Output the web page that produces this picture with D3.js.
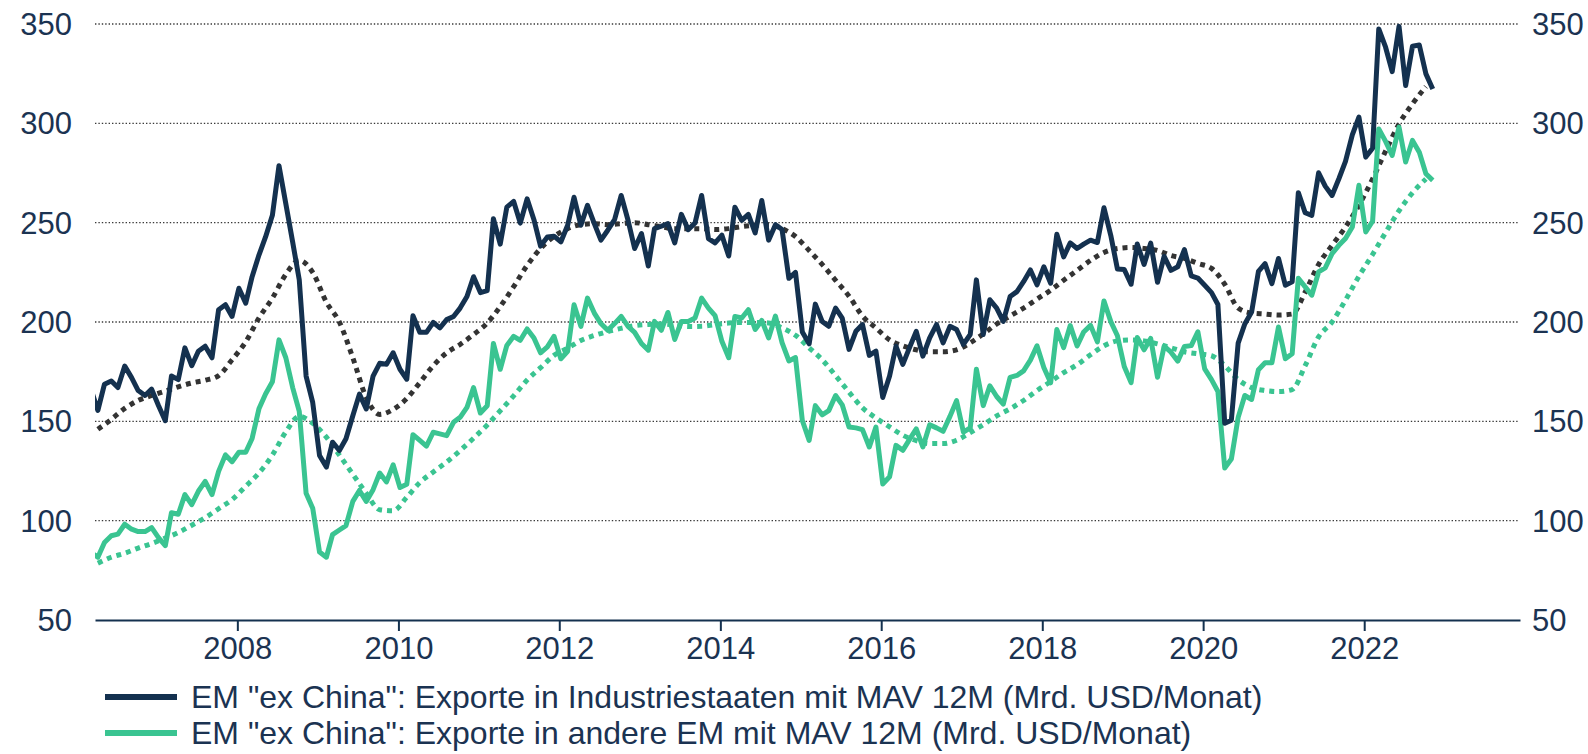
<!DOCTYPE html>
<html>
<head>
<meta charset="utf-8">
<script src="https://cdn.jsdelivr.net/npm/d3@7"></script>
<style>
  body { margin: 0; background: #fff; }
  svg text { font-family: "Liberation Sans", Arial, sans-serif; fill: #1b3352; }
</style>
</head>
<body>
<svg id="chart" width="1588" height="754"></svg>
<script>
// y ticks (left and right) and x tick years
const yTicks = [50, 100, 150, 200, 250, 300, 350];
const xTickYears = [2008, 2010, 2012, 2014, 2016, 2018, 2020, 2022];

const legendLabels = [
  'EM "ex China": Exporte in Industriestaaten mit MAV 12M (Mrd. USD/Monat)',
  'EM "ex China": Exporte in andere EM mit MAV 12M (Mrd. USD/Monat)'
];

// monthly values, first value = March 2006, last = November 2022
const industrie = [
  166, 155.5, 168.7, 170.3, 167, 177.8, 172, 165.5, 163, 166.2, 158, 150.3, 172.8,
  171, 187, 178, 185.3, 187.8, 182, 206.2, 208.7, 202.8, 217, 209.5, 222.8,
  233.7, 242.8, 253.7, 278.7, 259.5, 240.3, 221.2, 172.8, 159.5, 132.8, 127, 139.5,
  135.3, 141.2, 152.8, 163.7, 156.2, 172.8, 179.2, 178.7, 184.5, 176.2, 171.2, 203.2,
  194.8, 194.8, 199.8, 197, 201.2, 202.8, 207, 212.8, 222.8, 214.8, 215.8, 252,
  239.2, 257.8, 260.7, 249.8, 262, 251.5, 238.2, 242.8, 243.2, 240.3, 248.7, 262.8,
  248.7, 258.7, 249.5, 241.2, 246.2, 251.5, 263.7, 251.2, 237, 244.5, 228.2, 247,
  248.2, 249.5, 239.8, 254.2, 246.5, 249.8, 263.7, 242, 239.8, 243.7, 233.2, 257.8,
  251.2, 254.2, 244.8, 261.2, 241.2, 249, 246.5, 222, 225, 195, 189, 209,
  200.3, 197.8, 207, 202, 186.2, 195.3, 198.7, 183.2, 185.3, 162, 172.8, 187.8,
  178.7, 187, 195.3, 182.8, 192, 198.7, 189.5, 197.8, 196.2, 188.7, 193.7, 221.2,
  193.7, 211.2, 207, 200.3, 212.8, 215.3, 220.3, 226.2, 218.7, 227.8, 219.5, 244.2,
  232.8, 239.8, 237, 239.2, 241.2, 240, 257.5, 243.5, 226.7, 226.4, 219, 239.3,
  229, 239.7, 220, 233, 226, 227.8, 236.4, 223.2, 222.1, 218.5, 214.8, 208.8,
  149, 150.6, 189.4, 199, 205, 225.5, 229.4, 219.3, 232, 218.5, 220.2, 265.1,
  255, 253.7, 275.1, 268.4, 263.7, 272.1, 280.8, 294.2, 303.1, 283, 287.5, 347.5,
  338.3, 326, 348.8, 319, 338.8, 339.4, 324.9, 317.3
];

const andereEM = [
  84, 81.6, 89, 92.4, 93.2, 98.2, 95.7, 94.5, 94.5, 96.5, 91.5, 87.4, 104,
  103.2, 113.1, 108.1, 114.8, 119.8, 113.1, 124.8, 133.1, 129.7, 134.4, 134.4, 141.4,
  156.3, 163.8, 169.9, 191, 182, 167, 155, 113.8, 106.3, 84.2, 81.6, 93,
  95.3, 97.5, 109.7, 115.2, 109.7, 115.6, 124, 119.5, 128.1, 116.7, 118.3, 143.3,
  140.4, 137.5, 144.5, 143.7, 142.8, 149.5, 152, 157, 167, 154.2, 157.8, 189.2,
  176.2, 188.2, 192.8, 190.8, 196.5, 192, 184.5, 187.5, 192.8, 181.5, 185.3, 208.7,
  197.8, 212, 204.5, 199.2, 195.8, 199.2, 202.8, 197.8, 194.8, 189.2, 185.8, 200.3,
  195.8, 204.8, 191.2, 200.3, 200.3, 202, 212, 207, 203.2, 190.3, 182, 202.8,
  202, 206.2, 196.2, 200.8, 192, 203, 189.6, 180.4, 182.1, 150.4, 140.4, 157.9,
  153.3, 155.4, 163, 158.3, 147.1, 146.7, 145.8, 137.1, 147.1, 118.5, 122.1, 137.9,
  135.4, 140.8, 146.2, 137.1, 148.3, 146.7, 145, 152.5, 160.4, 144.6, 146.7, 176.2,
  157.9, 167.9, 162.5, 158.7, 172.1, 173.1, 175.4, 180.8, 188, 177.1, 169.4, 196.2,
  187.1, 198.2, 187.9, 195, 198.3, 190, 210.6, 200.2, 193.1, 177.6, 169.5, 192.2,
  186, 191.7, 172.2, 187.8, 184.8, 180.3, 187.7, 188.1, 195.1, 176.4, 171, 165,
  126.5, 131, 152, 163, 161, 176, 179.5, 179.5, 197.5, 181.5, 184, 222,
  217.7, 213.5, 225.2, 227.2, 234.4, 238.6, 242, 247.8, 268.8, 245.3, 250.7, 297.2,
  290.9, 283.8, 298.1, 280.5, 291.4, 285.5, 274.6, 271.3
];

// 12M moving averages, every second month from April 2006
const industrieMav = [
  146, 151, 156.5, 160.5, 163, 165.2, 167.4, 169.3, 170.7, 173,
  181, 190, 202, 212, 224, 231, 225, 210, 200, 182,
  162, 153.5, 156, 161.5, 169.5, 178, 184.5, 188.7, 193.7, 199.5,
  207.8, 217.8, 228.5, 237, 243, 247, 249, 249.5, 249, 249.5,
  250, 249, 248, 247, 247, 247, 246.5, 247, 248, 248.7,
  249, 247, 243, 236, 229, 221, 213, 203, 197, 191,
  188, 186, 185, 185, 186, 189.5, 194, 199, 203, 207,
  211.5, 216, 221, 226, 231, 235, 237, 237.5, 237, 236,
  233.5, 232, 229.5, 227, 219, 207, 204.5, 204, 203.5, 204,
  215, 229, 238.6, 247.8, 258.7, 272, 286, 299.7, 309.8, 318.5
];

const andereEMMav = [
  78.6, 81.6, 83.6, 86.2, 88.5, 91.2, 94, 97.7, 101.5, 106,
  110.6, 117.3, 124, 133, 144.7, 152.5, 149, 142, 133, 123.4,
  113.8, 105.5, 105, 111.8, 119.2, 124.5, 129.5, 135.3, 141.5, 148.2,
  155.3, 162.8, 170.8, 177, 183.2, 186.8, 190.7, 193.2, 195.2, 196.8,
  198.2, 198.8, 199, 198.5, 197.7, 197.8, 198.7, 199.5, 199.8, 199.8,
  199.5, 197, 193.3, 187, 181, 173, 164.7, 156.8, 151.7, 147.2,
  143, 140.3, 138.8, 138.8, 140.5, 144.3, 148.3, 152.7, 156.3, 160.5,
  165.5, 170, 174.5, 178.5, 183.5, 188, 190.5, 191, 190.5, 189,
  187, 185, 184, 183, 178, 171, 167, 165.5, 165, 166,
  178, 192.5, 200, 211, 223, 234, 245, 256, 265, 272
];

const navy = "#14314f";
const green = "#3ac491";
const dark = "#333333";

const svg = d3.select("#chart");
const plotLeft = 95, plotRight = 1520, plotTop = 24, plotBottom = 620;

const x = d3.scaleTime()
  .domain([new Date(2006, 2, 26), new Date(2023, 11, 9)])
  .range([plotLeft, plotRight]);
const y = d3.scaleLinear().domain([50, 350]).range([plotBottom, plotTop]);

const monthly = (v, i) => ({ date: new Date(2006, 2 + i, 8), value: v });
const biMonthly = (v, i) => ({ date: new Date(2006, 3 + 2 * i, 8), value: v });

svg.append("defs").append("clipPath").attr("id", "plot")
  .append("rect").attr("x", plotLeft).attr("y", 0)
  .attr("width", plotRight - plotLeft).attr("height", plotBottom);

// dotted gridlines
svg.append("g").selectAll("line")
  .data(yTicks.filter(d => d > 50)).enter().append("line")
  .attr("x1", plotLeft).attr("x2", plotRight - 2)
  .attr("y1", d => y(d)).attr("y2", d => y(d))
  .attr("stroke", "#3a3a3a").attr("stroke-width", 1.4)
  .attr("stroke-dasharray", "1.4,2");

// y labels both sides
svg.append("g").selectAll("text")
  .data(yTicks).enter().append("text")
  .attr("x", 72).attr("y", d => y(d)).attr("dy", "0.35em")
  .attr("text-anchor", "end").attr("font-size", 31)
  .text(d => d);
svg.append("g").selectAll("text")
  .data(yTicks).enter().append("text")
  .attr("x", 1532).attr("y", d => y(d)).attr("dy", "0.35em")
  .attr("text-anchor", "start").attr("font-size", 31)
  .text(d => d);

// x axis
const xAxis = d3.axisBottom(x)
  .tickValues(xTickYears.map(yr => new Date(yr, 0, 1)))
  .tickFormat(d3.timeFormat("%Y"))
  .tickSize(11).tickSizeOuter(0).tickPadding(6);
const gx = svg.append("g").attr("transform", `translate(0,${plotBottom})`).call(xAxis);
gx.select(".domain").attr("stroke", navy).attr("stroke-width", 2);
gx.selectAll(".tick line").attr("stroke", navy).attr("stroke-width", 2);
gx.selectAll(".tick text").attr("font-size", 31).attr("fill", "#1b3352")
  .attr("font-family", '"Liberation Sans", Arial, sans-serif');

const line = d3.line().x(d => x(d.date)).y(d => y(d.value));

const plot = svg.append("g").attr("clip-path", "url(#plot)");

plot.append("path")
  .datum(andereEMMav.map(biMonthly))
  .attr("d", line.curve(d3.curveMonotoneX))
  .attr("fill", "none").attr("stroke", green).attr("stroke-width", 5)
  .attr("stroke-dasharray", "5,5");
plot.append("path")
  .datum(industrieMav.map(biMonthly))
  .attr("d", line.curve(d3.curveMonotoneX))
  .attr("fill", "none").attr("stroke", dark).attr("stroke-width", 5)
  .attr("stroke-dasharray", "5,5");

line.curve(d3.curveLinear);
plot.append("path")
  .datum(andereEM.map(monthly))
  .attr("d", line)
  .attr("fill", "none").attr("stroke", green).attr("stroke-width", 5)
  .attr("stroke-linejoin", "round");
plot.append("path")
  .datum(industrie.map(monthly))
  .attr("d", line)
  .attr("fill", "none").attr("stroke", navy).attr("stroke-width", 5)
  .attr("stroke-linejoin", "round");

// legend
const legend = svg.append("g").selectAll("g")
  .data(legendLabels).enter().append("g")
  .attr("transform", (d, i) => `translate(105,${697 + i * 36})`);
legend.append("line")
  .attr("x1", 0).attr("x2", 72).attr("y1", 0).attr("y2", 0)
  .attr("stroke", (d, i) => i === 0 ? navy : green).attr("stroke-width", 6);
legend.append("text")
  .attr("x", 86).attr("y", 0).attr("dy", "0.35em")
  .attr("font-size", 32)
  .text(d => d);
</script>
</body>
</html>
